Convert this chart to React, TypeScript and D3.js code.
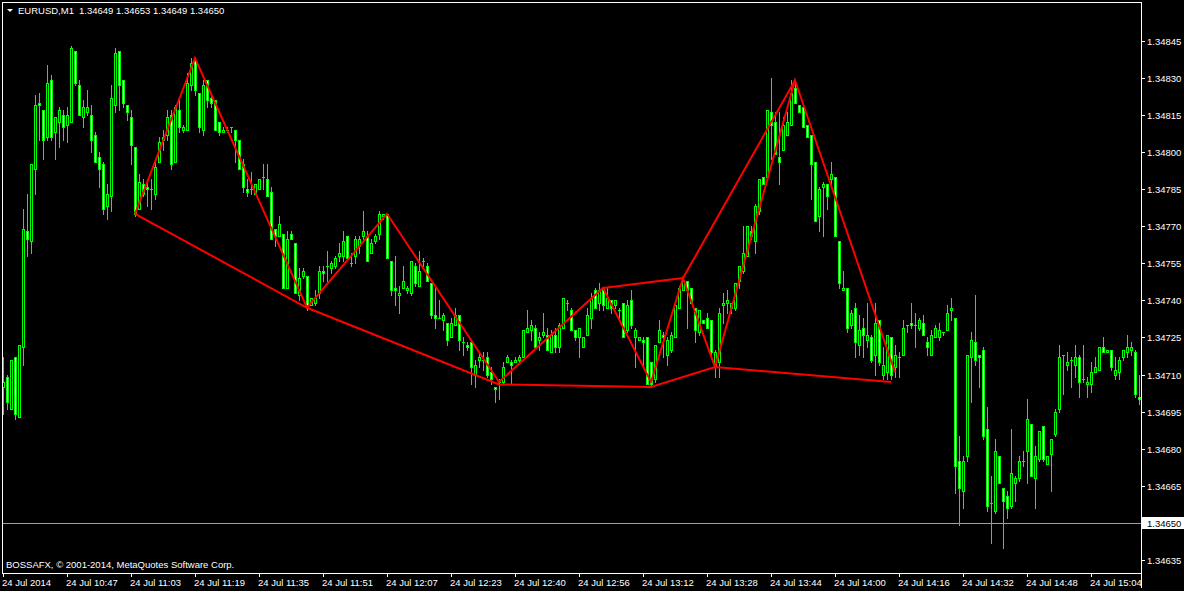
import * as d3 from "d3";

const WIDTH = 1184;
const HEIGHT = 591;

const symbolTitle = "EURUSD,M1";
const lastQuote = "1.34649 1.34653 1.34649 1.34650";
const bidPrice = 1.3465;
const copyrightText = "BOSSAFX, © 2001-2014, MetaQuotes Software Corp.";

// one label every 16 bars
const timeLabels = [
  "24 Jul 2014", "24 Jul 10:47", "24 Jul 11:03", "24 Jul 11:19", "24 Jul 11:35", "24 Jul 11:51",
  "24 Jul 12:07", "24 Jul 12:23", "24 Jul 12:40", "24 Jul 12:56", "24 Jul 13:12", "24 Jul 13:28",
  "24 Jul 13:44", "24 Jul 14:00", "24 Jul 14:16", "24 Jul 14:32", "24 Jul 14:48", "24 Jul 15:04",
];
const priceTicks = [
  1.34635, 1.3465, 1.34665, 1.3468, 1.34695, 1.3471, 1.34725, 1.3474,
  1.34755, 1.3477, 1.34785, 1.348, 1.34815, 1.3483, 1.34845,
];

const opens = [
  1.34705, 1.34709, 1.34696, 1.34717, 1.34693, 1.34721, 1.34768, 1.34764, 1.34793, 1.3482, 1.34817, 1.34806, 1.34829, 1.34808, 1.34812, 1.34815,
  1.34811, 1.34812, 1.34841, 1.34827, 1.34814, 1.34816, 1.34815, 1.34807, 1.34798, 1.34795, 1.34778, 1.34782, 1.34819, 1.34841, 1.34829, 1.34819,
  1.34814, 1.34802, 1.34777, 1.34787, 1.34786, 1.34785, 1.34783, 1.34796, 1.34805, 1.34807, 1.34815, 1.34796, 1.34817, 1.34809, 1.34809, 1.34827,
  1.34837, 1.34824, 1.34809, 1.34829, 1.34822, 1.34821, 1.34812, 1.34808, 1.34809, 1.3481, 1.34809, 1.34805, 1.34795, 1.34785, 1.34785, 1.34783,
  1.34785, 1.3479, 1.34789, 1.34784, 1.34769, 1.34766, 1.34767, 1.34745, 1.34767, 1.34763, 1.34742, 1.3475, 1.3475, 1.34738, 1.34739, 1.34743,
  1.34752, 1.34754, 1.34753, 1.34754, 1.34758, 1.34758, 1.34766, 1.34755, 1.34758, 1.34762, 1.34766, 1.34766, 1.34759, 1.34764, 1.34767, 1.34774,
  1.34775, 1.34756, 1.34745, 1.34742, 1.34745, 1.34744, 1.34743, 1.34754, 1.34746, 1.34756, 1.34754, 1.34747, 1.34734, 1.34733, 1.34732, 1.34731,
  1.34725, 1.3473, 1.34734, 1.34723, 1.34722, 1.34723, 1.3471, 1.34716, 1.34716, 1.34717, 1.34711, 1.34705, 1.34707, 1.34707, 1.34715, 1.34715,
  1.34715, 1.34716, 1.34717, 1.34727, 1.34728, 1.34729, 1.34724, 1.34726, 1.34726, 1.34719, 1.34726, 1.34721, 1.34729, 1.34739, 1.34736, 1.34728,
  1.34725, 1.34721, 1.34726, 1.34733, 1.34744, 1.34739, 1.34745, 1.34737, 1.3474, 1.34738, 1.34736, 1.34739, 1.34728, 1.3474, 1.34725, 1.34724,
  1.34724, 1.34725, 1.34715, 1.34708, 1.34723, 1.34726, 1.34718, 1.3472, 1.34725, 1.34737, 1.34744, 1.34748, 1.34745, 1.34737, 1.34727, 1.34732,
  1.34733, 1.34732, 1.34714, 1.34715, 1.34738, 1.34739, 1.34737, 1.34737, 1.34748, 1.34752, 1.34758, 1.34768, 1.34764, 1.34776, 1.3479, 1.3479,
  1.34816, 1.34812, 1.34798, 1.34801, 1.34807, 1.34811, 1.34826, 1.34819, 1.34818, 1.34811, 1.34807, 1.34796, 1.34774, 1.34786, 1.34787, 1.34789,
  1.3479, 1.34764, 1.34744, 1.34745, 1.3473, 1.34737, 1.34722, 1.34729, 1.34724, 1.34725, 1.34718, 1.34732, 1.3471, 1.34711, 1.34725, 1.34713,
  1.34717, 1.34718, 1.3473, 1.34731, 1.3473, 1.34729, 1.34731, 1.34723, 1.34718, 1.34725, 1.34725, 1.34727, 1.34728, 1.34736, 1.34733, 1.34675,
  1.34663, 1.34677, 1.34717, 1.34723, 1.34718, 1.3472, 1.34688, 1.34658, 1.34655, 1.34677, 1.34664, 1.34661, 1.34657, 1.34666, 1.34668, 1.34675,
  1.34679, 1.3469, 1.34668, 1.34676, 1.34689, 1.34674, 1.34678, 1.34686, 1.34696, 1.34718, 1.34714, 1.34716, 1.34714, 1.34717, 1.34708, 1.34706,
  1.34706, 1.34711, 1.34712, 1.34721, 1.34719, 1.3472, 1.3471, 1.34711, 1.34717, 1.34719, 1.3472, 1.34719, 1.34701,
];

const highs = [
  1.34717, 1.3471, 1.34716, 1.34717, 1.34722, 1.34777, 1.34783, 1.34795, 1.34823, 1.34824, 1.34817, 1.34835, 1.34831, 1.34814, 1.34818, 1.34817,
  1.34818, 1.34843, 1.34841, 1.34829, 1.34821, 1.34825, 1.34819, 1.34808, 1.348, 1.34796, 1.34787, 1.34827, 1.34842, 1.34841, 1.34829, 1.34819,
  1.34817, 1.34802, 1.34791, 1.34789, 1.34789, 1.34789, 1.34796, 1.34806, 1.34809, 1.34817, 1.34817, 1.34819, 1.34822, 1.34811, 1.34832, 1.34838,
  1.34838, 1.34824, 1.34829, 1.34829, 1.34823, 1.34821, 1.34812, 1.3481, 1.3481, 1.3481, 1.34809, 1.34805, 1.34797, 1.34789, 1.34792, 1.34787,
  1.34789, 1.34795, 1.34795, 1.34786, 1.34769, 1.34774, 1.34767, 1.34768, 1.34768, 1.34763, 1.34753, 1.34753, 1.3475, 1.34741, 1.34744, 1.34754,
  1.34754, 1.3476, 1.34756, 1.34758, 1.34763, 1.34768, 1.34766, 1.34759, 1.34766, 1.34766, 1.34776, 1.34768, 1.34765, 1.34767, 1.34776, 1.34775,
  1.34775, 1.34756, 1.34758, 1.34746, 1.34754, 1.34746, 1.34756, 1.34755, 1.3476, 1.34757, 1.34755, 1.34747, 1.34745, 1.3474, 1.34735, 1.34731,
  1.34733, 1.34737, 1.34734, 1.34725, 1.34723, 1.34723, 1.34716, 1.34719, 1.34719, 1.34719, 1.34713, 1.34705, 1.34708, 1.34715, 1.34718, 1.34716,
  1.34717, 1.34718, 1.34728, 1.34736, 1.34732, 1.3473, 1.34727, 1.34735, 1.34729, 1.34728, 1.34729, 1.34731, 1.34741, 1.3474, 1.34737, 1.34728,
  1.34729, 1.34725, 1.34737, 1.34743, 1.34745, 1.34747, 1.34745, 1.34745, 1.3474, 1.3474, 1.34737, 1.34739, 1.3474, 1.34744, 1.34729, 1.34725,
  1.34725, 1.34725, 1.34715, 1.34722, 1.34732, 1.34727, 1.34725, 1.34727, 1.34739, 1.34746, 1.3475, 1.34748, 1.34745, 1.34737, 1.34736, 1.34732,
  1.34735, 1.34732, 1.3472, 1.34737, 1.34743, 1.34744, 1.34739, 1.34747, 1.34754, 1.3477, 1.3477, 1.3477, 1.34779, 1.34789, 1.3479, 1.34817,
  1.3483, 1.34816, 1.34816, 1.34814, 1.34816, 1.34829, 1.34829, 1.34819, 1.34818, 1.34811, 1.34807, 1.34796, 1.34786, 1.34788, 1.34787, 1.34796,
  1.3479, 1.34764, 1.34752, 1.34745, 1.34736, 1.34739, 1.34734, 1.34733, 1.34739, 1.34726, 1.34739, 1.34732, 1.34721, 1.34726, 1.34725, 1.34722,
  1.34719, 1.34732, 1.3473, 1.34739, 1.34735, 1.34733, 1.34734, 1.34725, 1.34728, 1.3473, 1.34731, 1.34727, 1.34738, 1.34741, 1.34733, 1.34685,
  1.34677, 1.34718, 1.34727, 1.34742, 1.34718, 1.34721, 1.34697, 1.34669, 1.34684, 1.34677, 1.34664, 1.34663, 1.34688, 1.34669, 1.34677, 1.34679,
  1.347, 1.3469, 1.34681, 1.34687, 1.34689, 1.34677, 1.34684, 1.34696, 1.34722, 1.34718, 1.34719, 1.34717, 1.34722, 1.34718, 1.34722, 1.34709,
  1.34715, 1.34717, 1.34721, 1.34725, 1.3472, 1.3472, 1.34717, 1.34717, 1.3472, 1.34726, 1.34723, 1.3472, 1.3471,
];

const lows = [
  1.34694, 1.34696, 1.34696, 1.34692, 1.34693, 1.34714, 1.34758, 1.34759, 1.34783, 1.34805, 1.34797, 1.34805, 1.34805, 1.34797, 1.34802, 1.34805,
  1.34804, 1.34812, 1.34827, 1.34815, 1.3481, 1.34815, 1.348, 1.34796, 1.34786, 1.34775, 1.34773, 1.34776, 1.34816, 1.34817, 1.34818, 1.34813,
  1.34795, 1.34774, 1.34777, 1.34782, 1.34778, 1.34777, 1.34781, 1.34796, 1.34801, 1.34805, 1.34793, 1.34796, 1.34808, 1.34808, 1.34809, 1.34825,
  1.34823, 1.34808, 1.34807, 1.34818, 1.34818, 1.34809, 1.34807, 1.34808, 1.34808, 1.34808, 1.34796, 1.34793, 1.34784, 1.34782, 1.34783, 1.34783,
  1.34785, 1.34785, 1.34782, 1.34765, 1.34762, 1.34766, 1.34745, 1.34745, 1.34765, 1.34743, 1.3474, 1.34749, 1.34736, 1.34738, 1.34738, 1.34741,
  1.34748, 1.34748, 1.34751, 1.34753, 1.34756, 1.34756, 1.34757, 1.34754, 1.34755, 1.34759, 1.34765, 1.34756, 1.34759, 1.34763, 1.34765, 1.34773,
  1.34757, 1.34742, 1.34738, 1.34735, 1.34745, 1.34743, 1.34742, 1.34746, 1.34746, 1.34754, 1.34748, 1.34733, 1.34729, 1.34733, 1.34728, 1.34722,
  1.34725, 1.3473, 1.3472, 1.34718, 1.3472, 1.34706, 1.34705, 1.34713, 1.34712, 1.34709, 1.34706, 1.34699, 1.347, 1.34706, 1.34715, 1.34706,
  1.34715, 1.34715, 1.34717, 1.34727, 1.34724, 1.34721, 1.3472, 1.34725, 1.3472, 1.34719, 1.34719, 1.34719, 1.34729, 1.34736, 1.34728, 1.34724,
  1.34717, 1.34721, 1.34726, 1.34729, 1.34737, 1.34736, 1.34736, 1.34737, 1.34735, 1.34737, 1.34733, 1.34725, 1.34727, 1.34729, 1.34713, 1.34724,
  1.34713, 1.34706, 1.34705, 1.34707, 1.34723, 1.34717, 1.34714, 1.34719, 1.34725, 1.34737, 1.34744, 1.34729, 1.34739, 1.34723, 1.34726, 1.34731,
  1.34729, 1.34717, 1.34709, 1.34709, 1.34731, 1.34735, 1.34735, 1.34736, 1.34745, 1.34751, 1.34758, 1.34765, 1.34759, 1.34775, 1.34787, 1.3479,
  1.34797, 1.34799, 1.34787, 1.34801, 1.34807, 1.34811, 1.3482, 1.34816, 1.3481, 1.34806, 1.34781, 1.34772, 1.34768, 1.34766, 1.34777, 1.34786,
  1.34766, 1.34745, 1.34744, 1.34727, 1.34729, 1.34717, 1.34718, 1.34717, 1.34721, 1.34715, 1.3471, 1.34714, 1.34708, 1.34708, 1.34708, 1.34709,
  1.34709, 1.34718, 1.34727, 1.34729, 1.34721, 1.34728, 1.34726, 1.34718, 1.34718, 1.34725, 1.34724, 1.34726, 1.34728, 1.34732, 1.34662, 1.34649,
  1.34656, 1.34675, 1.34699, 1.34714, 1.34705, 1.34684, 1.34655, 1.34642, 1.34654, 1.34666, 1.3464, 1.34652, 1.34656, 1.34659, 1.34667, 1.34673,
  1.34666, 1.34669, 1.34656, 1.34675, 1.34675, 1.34674, 1.34663, 1.34685, 1.34695, 1.34702, 1.34712, 1.34705, 1.34709, 1.34701, 1.34707, 1.34701,
  1.34703, 1.34711, 1.34712, 1.34719, 1.34719, 1.34712, 1.34708, 1.34708, 1.34716, 1.34717, 1.34718, 1.34701, 1.34698,
];

const closes = [
  1.34707, 1.34699, 1.34716, 1.34694, 1.34722, 1.34769, 1.34765, 1.34795, 1.34819, 1.34819, 1.34805, 1.34828, 1.34806, 1.34814, 1.34817, 1.3481,
  1.34815, 1.34842, 1.34828, 1.34815, 1.34818, 1.34818, 1.34805, 1.34796, 1.34793, 1.34777, 1.34783, 1.34822, 1.3484, 1.34827, 1.3482, 1.34816,
  1.34803, 1.34775, 1.34788, 1.34783, 1.34785, 1.34785, 1.34794, 1.34804, 1.34806, 1.34814, 1.34795, 1.34818, 1.3481, 1.3481, 1.34828, 1.34836,
  1.34825, 1.3481, 1.34827, 1.34821, 1.3482, 1.34809, 1.34808, 1.34809, 1.34809, 1.3481, 1.34805, 1.34793, 1.34786, 1.34784, 1.34785, 1.34787,
  1.34789, 1.3479, 1.34782, 1.34765, 1.34766, 1.34771, 1.34745, 1.34765, 1.34765, 1.34743, 1.34749, 1.34752, 1.34738, 1.34741, 1.34741, 1.34752,
  1.34751, 1.34754, 1.34755, 1.34757, 1.34759, 1.34764, 1.34757, 1.34755, 1.34765, 1.34765, 1.34768, 1.34756, 1.34763, 1.34766, 1.34775, 1.34775,
  1.34757, 1.34744, 1.34744, 1.34743, 1.34748, 1.34745, 1.34756, 1.34747, 1.34752, 1.34756, 1.34748, 1.34734, 1.34733, 1.34733, 1.34734, 1.34724,
  1.34731, 1.34734, 1.34724, 1.34723, 1.34721, 1.34713, 1.34714, 1.34717, 1.34716, 1.3471, 1.34708, 1.34704, 1.34707, 1.34713, 1.34717, 1.34714,
  1.34716, 1.34717, 1.34728, 1.34729, 1.3473, 1.34721, 1.34725, 1.34727, 1.3472, 1.34726, 1.34721, 1.3473, 1.34741, 1.34739, 1.34728, 1.34725,
  1.34729, 1.34725, 1.34734, 1.34741, 1.34737, 1.34744, 1.34738, 1.34741, 1.34737, 1.3474, 1.34736, 1.34725, 1.34738, 1.3473, 1.34728, 1.34725,
  1.34723, 1.34706, 1.34706, 1.34722, 1.34728, 1.34725, 1.34724, 1.34726, 1.34738, 1.34745, 1.34748, 1.34744, 1.34739, 1.34728, 1.34736, 1.34731,
  1.34729, 1.34719, 1.34719, 1.34735, 1.34739, 1.3474, 1.34739, 1.34747, 1.34754, 1.34759, 1.3477, 1.34766, 1.34778, 1.34789, 1.34787, 1.34817,
  1.34811, 1.34799, 1.34796, 1.34811, 1.34812, 1.34824, 1.3482, 1.34816, 1.3481, 1.34806, 1.34795, 1.34772, 1.34785, 1.34787, 1.34782, 1.34791,
  1.34766, 1.34747, 1.34745, 1.34729, 1.34735, 1.34723, 1.34728, 1.34726, 1.34726, 1.34716, 1.34731, 1.34715, 1.34714, 1.34726, 1.3471, 1.34718,
  1.34717, 1.34729, 1.3473, 1.3473, 1.3473, 1.34732, 1.34726, 1.34721, 1.34726, 1.34729, 1.34728, 1.34727, 1.34735, 1.34737, 1.34673, 1.34664,
  1.34675, 1.34718, 1.34724, 1.34716, 1.34717, 1.34685, 1.34657, 1.34658, 1.34679, 1.34666, 1.34659, 1.34656, 1.3467, 1.34668, 1.34675, 1.34675,
  1.34692, 1.34669, 1.34677, 1.34687, 1.34676, 1.34677, 1.34684, 1.34695, 1.34717, 1.34718, 1.34715, 1.34716, 1.34717, 1.34707, 1.34708, 1.34707,
  1.34711, 1.34713, 1.34721, 1.34719, 1.3472, 1.34713, 1.34712, 1.34716, 1.3472, 1.34721, 1.34721, 1.34702, 1.347,
];

// zigzag swing points (bar index, price)
const zigBars = [33, 48, 76, 96, 124, 150, 162, 170, 178, 198, 223];
const zigPrices = [1.34775, 1.34838, 1.34737, 1.34775, 1.34707, 1.34745, 1.34707, 1.34749, 1.34713, 1.34829, 1.34711];
// line through the lows
const lowBars = [33, 76, 124, 162, 178, 222];
const lowPrices = [1.34775, 1.34737, 1.34706, 1.34705, 1.34713, 1.34707];
// line through the late highs
const highBars = [150, 170, 198];
const highPrices = [1.34745, 1.34749, 1.34829];

const LIME = "#00ff00";
const FONT = "'Liberation Sans', Arial, sans-serif";

export default function App() {
  const n = opens.length;
  const plot = { left: 2, top: 2, right: 1141, bottom: 573 };

  const x = d3.scaleLinear().domain([0, n - 1]).range([3, 1139]);
  const y = d3.scaleLinear().domain([1.34635, 1.34845]).range([560, 40.7]);

  const line = d3
    .line<[number, number]>()
    .x((d) => x(d[0]))
    .y((d) => y(d[1]));

  const zig = zigBars.map((b, i) => [b, zigPrices[i]] as [number, number]);
  const lowLine = lowBars.map((b, i) => [b, lowPrices[i]] as [number, number]);
  const highLine = highBars.map((b, i) => [b, highPrices[i]] as [number, number]);

  const candles = opens.map((o, i) => {
    const c = closes[i];
    const cx = Math.round(x(i));
    const hi = Math.max(highs[i], o, c);
    const lo = Math.min(lows[i], o, c);
    const yH = Math.round(y(hi));
    const yL = Math.round(y(lo));
    const yT = Math.round(y(Math.max(o, c)));
    const yB = Math.round(y(Math.min(o, c)));
    return (
      <g key={i}>
        <line x1={cx + 0.5} x2={cx + 0.5} y1={yH} y2={yL + 1} stroke={LIME} />
        {yB - yT < 1 ? (
          <line x1={cx - 1} x2={cx + 2} y1={yT + 0.5} y2={yT + 0.5} stroke={LIME} />
        ) : (
          <rect
            x={cx - 0.5}
            y={yT + 0.5}
            width={2}
            height={yB - yT}
            fill={c < o ? "#ffffff" : "#000000"}
            stroke={LIME}
          />
        )}
      </g>
    );
  });

  const bidY = Math.round(y(bidPrice));

  return (
    <svg
      width={WIDTH}
      height={HEIGHT}
      style={{ position: "fixed", left: 0, top: 0, display: "block", background: "#000" }}
      fontFamily={FONT}
    >
      <defs>
        <clipPath id="plotClip">
          <rect x={plot.left + 1} y={plot.top + 1} width={plot.right - plot.left - 1} height={plot.bottom - plot.top - 1} />
        </clipPath>
      </defs>
      <rect x={0} y={0} width={WIDTH} height={HEIGHT} fill="#000" />

      <g clipPath="url(#plotClip)" shapeRendering="crispEdges">
        <line x1={plot.left} x2={plot.right} y1={bidY + 0.5} y2={bidY + 0.5} stroke="#a0a0a0" />
        {candles}
      </g>

      <g clipPath="url(#plotClip)" fill="none" stroke="#ff0000" strokeWidth={2}>
        <path d={line(lowLine) || ""} />
        <path d={line(highLine) || ""} />
        <path d={line(zig) || ""} />
      </g>

      {/* frame */}
      <g stroke="#ffffff" shapeRendering="crispEdges" fill="none">
        <line x1={plot.left + 0.5} x2={plot.left + 0.5} y1={plot.top} y2={plot.bottom + 1} />
        <line x1={plot.left} x2={plot.right + 1} y1={plot.top + 0.5} y2={plot.top + 0.5} />
        <line x1={plot.left} x2={plot.right + 1} y1={plot.bottom + 0.5} y2={plot.bottom + 0.5} />
        <line x1={plot.right + 0.5} x2={plot.right + 0.5} y1={plot.top} y2={HEIGHT - 3} />
      </g>

      {/* price axis */}
      <g fill="#ffffff" fontSize={9.5}>
        {priceTicks.map((p) => {
          const py = Math.round(y(p));
          return (
            <g key={p}>
              <line x1={plot.right + 1} x2={plot.right + 4} y1={py + 0.5} y2={py + 0.5} stroke="#ffffff" shapeRendering="crispEdges" />
              <text x={1147} y={py + 4}>{p.toFixed(5)}</text>
            </g>
          );
        })}
      </g>
      <rect x={plot.right + 1} y={bidY - 6} width={WIDTH - plot.right - 1} height={12} fill="#ffffff" />
      <text x={1147} y={bidY + 4} fill="#000000" fontSize={9.5}>{bidPrice.toFixed(5)}</text>

      {/* time axis */}
      <g fill="#ffffff" fontSize={9.5}>
        {timeLabels.map((t, k) => {
          const tx = Math.round(x(k * 16));
          return (
            <g key={t}>
              <line x1={tx + 0.5} x2={tx + 0.5} y1={plot.bottom} y2={plot.bottom + 4} stroke="#ffffff" shapeRendering="crispEdges" />
              <text x={tx - 1} y={586}>{t}</text>
            </g>
          );
        })}
      </g>

      {/* title and copyright */}
      <polygon points="7,9 13,9 10,12" fill="#ffffff" />
      <text x={18} y={14} fill="#ffffff" fontSize={9.5}>{symbolTitle}</text>
      <text x={79} y={14} fill="#ffffff" fontSize={9.5}>{lastQuote}</text>
      <text x={6} y={568} fill="#ffffff" fontSize={9.5}>{copyrightText}</text>
    </svg>
  );
}
